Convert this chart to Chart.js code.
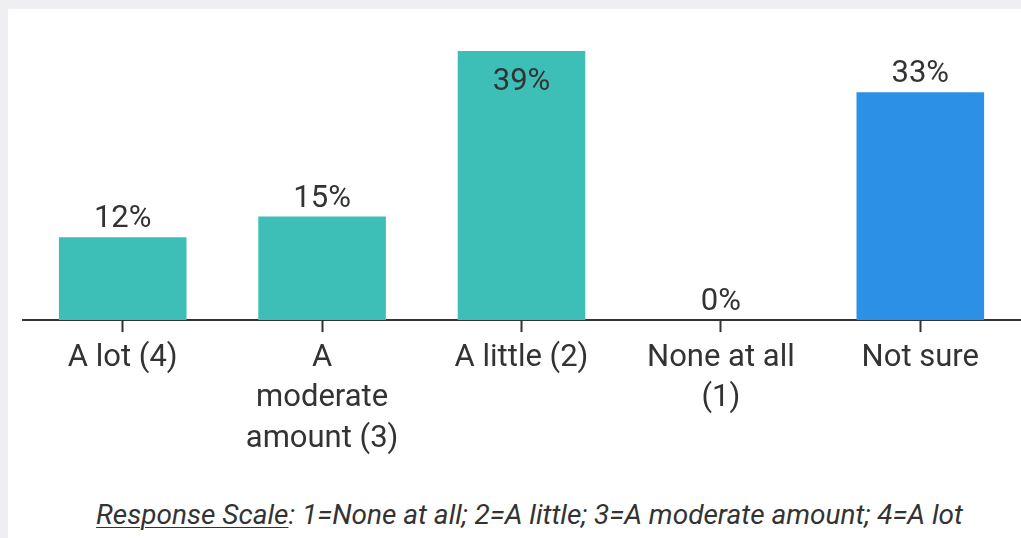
<!DOCTYPE html>
<html>
<head>
<meta charset="utf-8">
<script src="https://cdn.jsdelivr.net/npm/chart.js@4.4.1/dist/chart.umd.min.js"></script>
<style>
  html, body { margin: 0; padding: 0; background: #efeef3; width: 1021px; height: 538px; overflow: hidden; }
  #card { position: absolute; left: 8px; top: 9px; width: 1013px; height: 529px; background: #ffffff; }
  #wrap { position: absolute; left: 0; top: 0; width: 1013px; height: 456px; }
  #caption { position: absolute; left: 0; top: 492px; width: 1043px; text-align: center; line-height: 28px;
    font-family: Roboto, "Noto Sans", sans-serif; font-style: italic; font-size: 28px; color: #333; white-space: nowrap; }
  #caption u { text-decoration-thickness: 1px; text-underline-offset: 3px; }
</style>
</head>
<body>
<div id="card">
  <div id="wrap"><canvas id="c"></canvas></div>
  <div id="caption"><u>Response Scale</u>: 1=None at all; 2=A little; 3=A moderate amount; 4=A lot</div>
</div>
<script>
const categories = [["A lot (4)"], ["A", "moderate", "amount (3)"], ["A little (2)"], ["None at all", "(1)"], ["Not sure"]];
const values = [12, 15, 39, 0, 33];
const valueLabels = ["12%", "15%", "39%", "0%", "33%"];
const barColors = ["#3dbfb8", "#3dbfb8", "#3dbfb8", "#3dbfb8", "#2b90e6"];

const labelPlugin = {
  id: "valueLabels",
  afterDatasetsDraw(chart) {
    const ctx = chart.ctx;
    const meta = chart.getDatasetMeta(0);
    const area = chart.chartArea;
    ctx.save();
    ctx.font = "31px Roboto";
    ctx.fillStyle = "#333333";
    ctx.textAlign = "center";
    ctx.textBaseline = "alphabetic";
    meta.data.forEach((bar, i) => {
      const txt = valueLabels[i];
      const capH = 23;
      const y = bar.y - 10;
      if (y - capH < area.top) {
        ctx.fillText(txt, bar.x, bar.y + 39);
      } else {
        ctx.fillText(txt, bar.x, y);
      }
    });
    ctx.restore();
  }
};

new Chart(document.getElementById("c"), {
  type: "bar",
  data: {
    labels: categories,
    datasets: [{
      data: values,
      backgroundColor: barColors,
      borderWidth: 0,
      categoryPercentage: 1.0,
      barPercentage: 0.64
    }]
  },
  options: {
    responsive: true,
    maintainAspectRatio: false,
    animation: false,
    layout: { padding: { left: 15, right: 1, top: 35, bottom: 0 } },
    plugins: { legend: { display: false }, tooltip: { enabled: false } },
    scales: {
      x: {
        grid: { offset: false, drawOnChartArea: false, drawTicks: true, tickLength: 12, tickColor: "#333", tickWidth: 2 },
        border: { display: true, color: "#333", width: 2 },
        ticks: { color: "#333", font: { family: "Roboto", size: 31, lineHeight: 1.3 }, padding: 6, maxRotation: 0, autoSkip: false }
      },
      y: { display: false, min: 0, max: 40 }
    }
  },
  plugins: [labelPlugin]
});
</script>
</body>
</html>
